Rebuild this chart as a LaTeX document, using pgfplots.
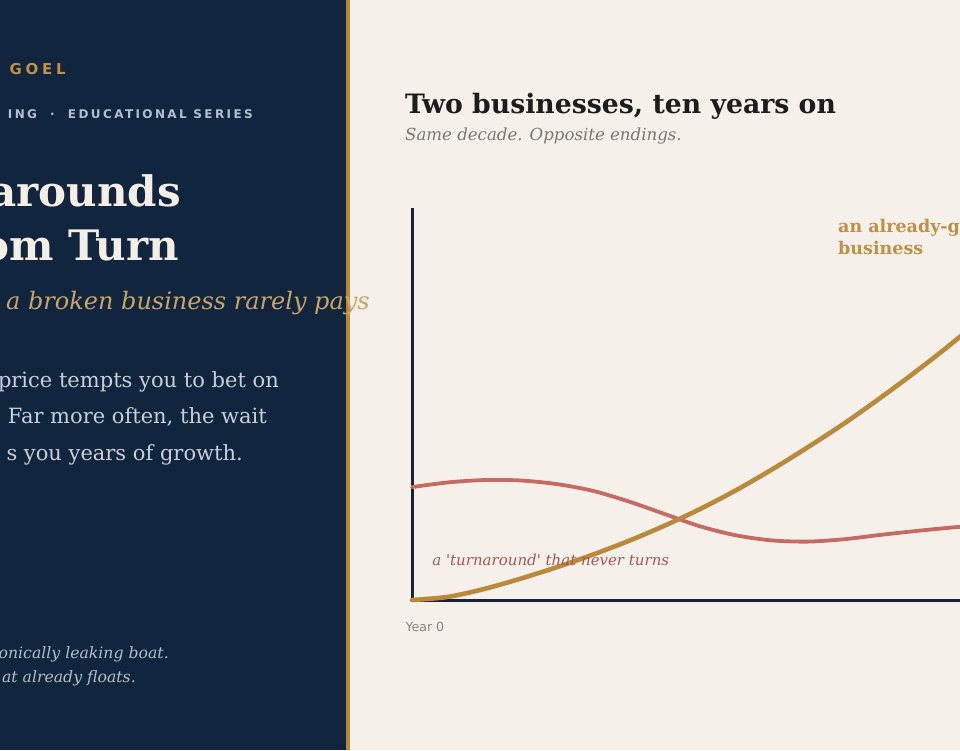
\documentclass[border=0pt]{standalone}
\usepackage{pgfplots}
\pgfplotsset{compat=1.18}
\usepackage{fontspec}
\setmainfont{DejaVu Serif}
\setsansfont{DejaVu Sans}

\definecolor{navy}{HTML}{12253F}
\definecolor{cream}{HTML}{F5F0E9}
\definecolor{divgold}{HTML}{B8883A}
\definecolor{linegold}{HTML}{B98A3B}
\definecolor{textgold}{HTML}{BD9148}
\definecolor{softgold}{HTML}{C8A567}
\definecolor{linered}{HTML}{C56B63}
\definecolor{textred}{HTML}{A55752}
\definecolor{bodytext}{HTML}{C9CFD9}
\definecolor{finetext}{HTML}{B5BDC9}
\definecolor{seriestext}{HTML}{B4BED0}
\definecolor{titlecream}{HTML}{F3EEE6}
\definecolor{inkdark}{HTML}{1E1D1C}
\definecolor{subgrey}{HTML}{7C7670}
\definecolor{axisdark}{HTML}{1A2236}

% the two paths, years 0..10 against an index of 0..100
\pgfplotstableread{
year value
0.0  0.0
0.5  0.8
1.0  2.8
1.5  5.4
2.0  8.3
2.5  11.5
3.0  15.0
3.5  18.9
4.0  23.2
4.5  28.0
5.0  33.3
5.5  39.0
6.0  45.0
6.5  51.5
7.0  58.3
7.5  65.5
8.0  73.2
8.5  81.2
9.0  89.5
}\growing
\pgfplotstableread{
year value
0.0  28.8
0.5  30.0
1.0  30.6
1.5  30.5
2.0  29.6
2.5  27.9
3.0  25.2
3.5  22.0
4.0  18.8
4.5  16.5
5.0  15.2
5.5  14.9
6.0  15.5
6.5  16.6
7.0  17.6
7.5  18.5
8.0  19.2
8.5  19.7
9.0  20.1
}\turnaround

\begin{document}
\begin{tikzpicture}[x=1pt,y=-1pt]
\useasboundingbox (0,0) rectangle (960,750);
\clip (0,0) rectangle (960,750);
\fill[cream] (0,0) rectangle (960,750);
\fill[navy] (0,0) rectangle (346,750);
\fill[divgold] (346,0) rectangle (349.5,750);
\coordinate (origin) at (412,600);

% left panel
\node[anchor=base east, inner sep=0, text=textgold,
  font=\sffamily\bfseries\fontsize{15}{17}\selectfont\addfontfeatures{LetterSpace=25}]
  at (66,74) {GOEL};
\node[anchor=base east, inner sep=0, text=seriestext,
  font=\sffamily\bfseries\fontsize{12}{14}\selectfont\addfontfeatures{LetterSpace=20}]
  at (253,118) {ING \ · \ EDUCATIONAL SERIES};
\node[anchor=base east, inner sep=0, text=titlecream,
  font=\bfseries\fontsize{42}{50}\selectfont] at (181,206) {arounds};
\node[anchor=base east, inner sep=0, text=titlecream,
  font=\bfseries\fontsize{42}{50}\selectfont] at (179,260) {om Turn};
\node[anchor=base east, inner sep=0, text=softgold,
  font=\itshape\fontsize{24}{28}\selectfont] at (370,309) {a broken business rarely pays};
\begin{scope}[every node/.style={anchor=base east, inner sep=0, text=bodytext,
  font=\fontsize{21}{25}\selectfont}]
\node at (279,387) {price tempts you to bet on};
\node at (267,423) {Far more often, the wait};
\node at (243,460) {s you years of growth.};
\end{scope}
\begin{scope}[every node/.style={anchor=base east, inner sep=0, text=finetext,
  font=\itshape\fontsize{15.7}{18}\selectfont}]
\node at (169,658) {onically leaking boat.};
\node at (136,682) {at already floats.};
\end{scope}

% right panel headings
\node[anchor=base west, inner sep=0, text=inkdark,
  font=\bfseries\fontsize{26.7}{30}\selectfont] at (405,113) {Two businesses, ten years on};
\node[anchor=base west, inner sep=0, text=subgrey,
  font=\itshape\fontsize{16.6}{19}\selectfont] at (405,140) {Same decade. Opposite endings.};

\begin{axis}[
    at={(origin)}, anchor=south west,
    scale only axis,
    x=72pt, y=3.92pt,
    xmin=0, xmax=10,
    ymin=0, ymax=100,
    axis lines=left,
    axis line style={-, axisdark, line width=3pt},
    xtick={0,10}, xticklabels={Year 0, Year 10},
    ytick=\empty,
    major tick length=0pt,
    xticklabel style={anchor=north west, xshift=-10pt, yshift=-19pt,
      font=\sffamily\fontsize{12.6}{14}\selectfont, text=subgrey!90},
    clip=false,
]
\addplot[linered, line width=3.8pt, smooth, line cap=round] table[x=year, y=value] {\turnaround};
\addplot[linegold, line width=4.6pt, smooth, line cap=round] table[x=year, y=value] {\growing};
\node[anchor=base west, inner sep=0, text=textred, font=\itshape\fontsize{15}{18}\selectfont]
  at (axis cs:0.28,8.9) {a \textquotesingle turnaround\textquotesingle{} that never turns};
\end{axis}

\node[anchor=base west, inner sep=0, text=textgold,
  font=\bfseries\fontsize{17.5}{21}\selectfont] at (838,232) {an already-growing};
\node[anchor=base west, inner sep=0, text=textgold,
  font=\bfseries\fontsize{17.5}{21}\selectfont] at (838,254) {business};
\end{tikzpicture}
\end{document}
